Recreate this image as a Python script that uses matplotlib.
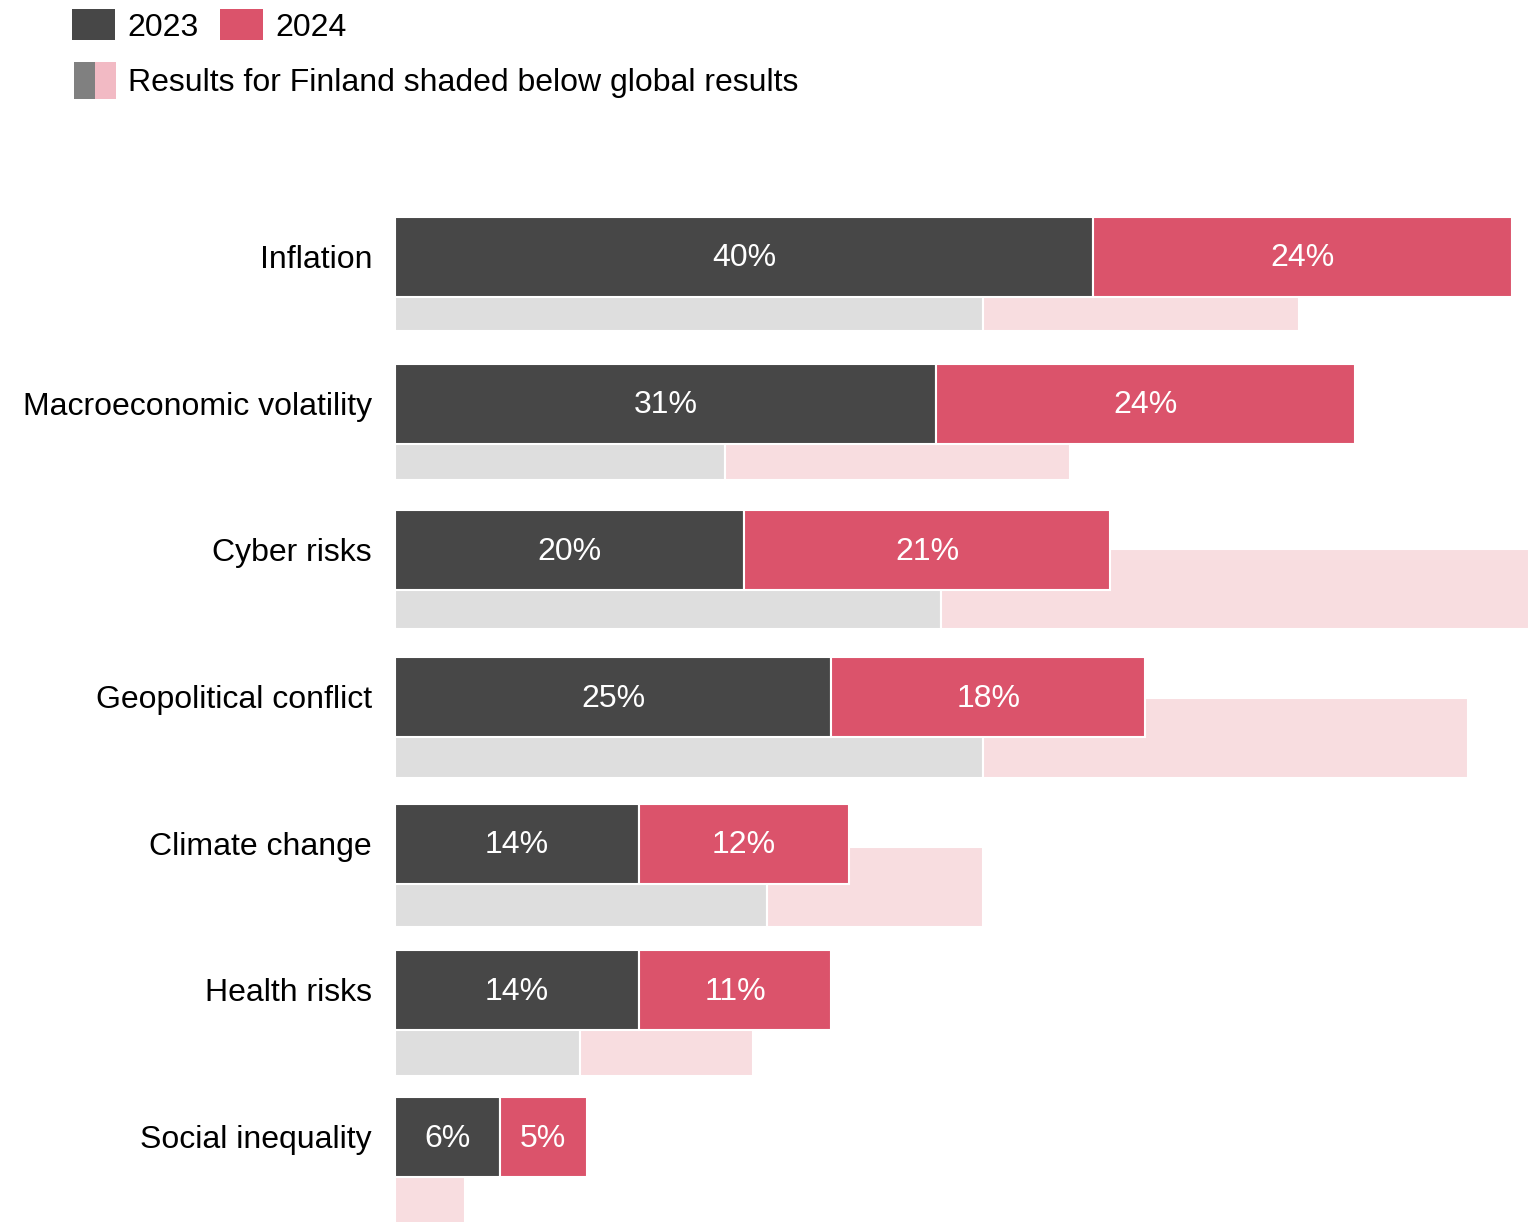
import matplotlib.pyplot as plt
from matplotlib.patches import Rectangle

plt.rcParams['font.family'] = ['Liberation Sans', 'DejaVu Sans']

# global results (top bars) and Finland results (shaded bars below)
categories = ["Inflation", "Macroeconomic volatility", "Cyber risks",
              "Geopolitical conflict", "Climate change", "Health risks",
              "Social inequality"]
global_2023 = [40, 31, 20, 25, 14, 14, 6]
global_2024 = [24, 24, 21, 18, 12, 11, 5]
finland_2023 = [33.7, 18.9, 31.3, 33.7, 21.3, 10.6, 0]
finland_2024 = [18.1, 19.8, 33.7, 27.8, 12.4, 9.9, 4.0]

DARK = "#474747"
RED = "#DB536B"
LIGHT_GRAY = "#DEDEDE"
LIGHT_PINK = "#F8DDE0"

W, H = 1534, 1222
X0 = 395          # pixel where the bars start
PX_PER_PCT = 17.45

fig = plt.figure(figsize=(W / 100, H / 100), dpi=100)
ax = fig.add_axes([X0 / W, 0, (W - X0) / W, 1])
ax.set_xlim(0, (W - X0) / PX_PER_PCT)
ax.set_ylim(H, 0)
ax.axis('off')

n = len(categories)
main_y = [257 + 146.67 * i for i in range(n)]
fin_y = [291 + 149 * i for i in range(n)]
bar_h = 80

# Finland bars, drawn behind
ax.barh(fin_y, finland_2023, height=bar_h, color=LIGHT_GRAY,
        edgecolor='white', linewidth=1.5, zorder=1)
ax.barh(fin_y, finland_2024, left=finland_2023, height=bar_h,
        color=LIGHT_PINK, edgecolor='white', linewidth=1.5, zorder=1)

# global bars on top
ax.barh(main_y, global_2023, height=bar_h, color=DARK,
        edgecolor='white', linewidth=1.5, zorder=2)
ax.barh(main_y, global_2024, left=global_2023, height=bar_h, color=RED,
        edgecolor='white', linewidth=1.5, zorder=2)

label_x = -(X0 - 372) / PX_PER_PCT
for i in range(n):
    ax.text(label_x, main_y[i] + 3, categories[i], ha='right', va='center',
            fontsize=23, color='black')
    a, b = global_2023[i], global_2024[i]
    ax.text(a / 2, main_y[i] + 1.5, f"{a}%", ha='center', va='center',
            fontsize=23, color='white', zorder=3)
    ax.text(a + b / 2, main_y[i] + 1.5, f"{b}%", ha='center', va='center',
            fontsize=23, color='white', zorder=3)


# legend at the top
def swatch(x, y, w, h, color):
    fig.add_artist(Rectangle((x / W, 1 - (y + h) / H), w / W, h / H,
                             transform=fig.transFigure, facecolor=color,
                             edgecolor='none'))


swatch(72, 9, 43, 31, DARK)
swatch(220, 9, 43, 31, RED)
fig.text(127 / W, 1 - 28 / H, "2023", fontsize=23, va='center')
fig.text(275 / W, 1 - 28 / H, "2024", fontsize=23, va='center')
swatch(74, 62, 21, 37, "#808080")
swatch(95, 62, 21, 37, "#F2BAC4")
fig.text(128 / W, 1 - 83 / H, "Results for Finland shaded below global results",
         fontsize=23, va='center')

fig.savefig("out.png", dpi=100)
